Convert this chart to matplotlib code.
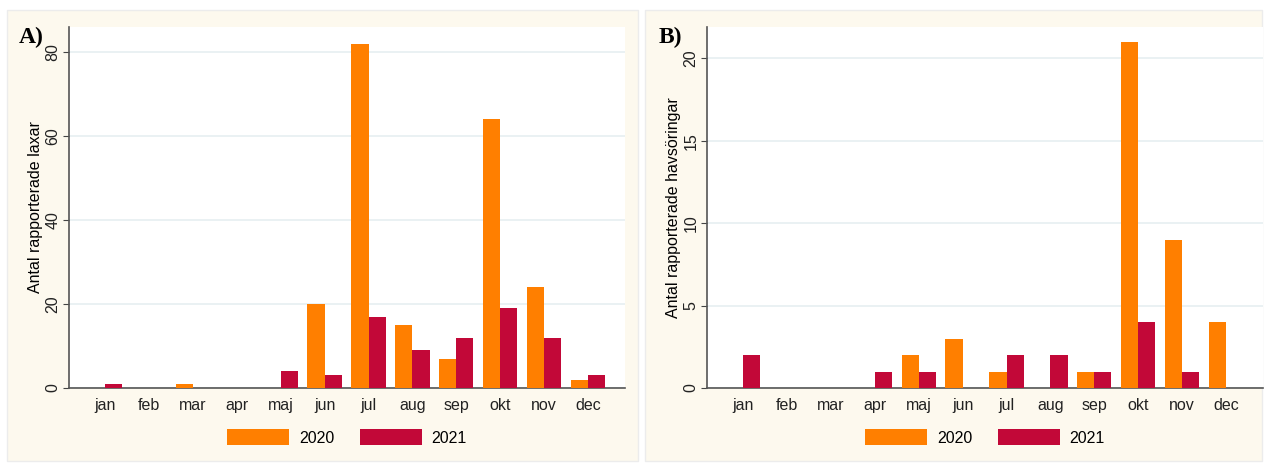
import numpy as np
import matplotlib
matplotlib.use("Agg")
import matplotlib.pyplot as plt
from matplotlib.patches import Rectangle

months = ["jan", "feb", "mar", "apr", "maj", "jun", "jul", "aug", "sep", "okt", "nov", "dec"]
years = ["2020", "2021"]

# Panel A: laxar
lax_2020 = [0, 0, 1, 0, 0, 20, 82, 15, 7, 64, 24, 2]
lax_2021 = [1, 0, 0, 0, 4, 3, 17, 9, 12, 19, 12, 3]

# Panel B: havsöringar
hav_2020 = [0, 0, 0, 0, 2, 3, 1, 0, 1, 21, 9, 4]
hav_2021 = [2, 0, 0, 1, 1, 0, 2, 2, 1, 4, 1, 0]

C2020 = "#ff7f00"
C2021 = "#c20838"
CREAM = "#fdf9ee"

plt.rcParams["font.family"] = ["Liberation Sans", "DejaVu Sans"]

W, H = 1266, 463
fig = plt.figure(figsize=(W / 100, H / 100), dpi=100)
fig.patch.set_facecolor("white")


def px_axes(x0, y0, x1, y1):
    """Axes from pixel box (top-left origin)."""
    return fig.add_axes([x0 / W, 1 - y1 / H, (x1 - x0) / W, (y1 - y0) / H])


def panel_bg(x0, x1):
    fig.patches.append(Rectangle((x0 / W, 1 - 461 / H), (x1 - x0) / W, (461 - 10) / H,
                                 transform=fig.transFigure, facecolor=CREAM,
                                 edgecolor="#ececec", lw=1, zorder=-10))


def draw(ax, v20, v21, ylabel, yticks, ymax, tag, tag_x):
    x = np.arange(len(months))
    w = 0.39
    ax.bar(x - w / 2, v20, w, color=C2020, label=years[0], zorder=3)
    ax.bar(x + w / 2, v21, w, color=C2021, label=years[1], zorder=3)
    ax.set_xlim(-0.82, 11.84)
    ax.set_ylim(0, ymax)
    ax.set_xticks(x)
    ax.set_xticklabels(months, fontsize=11.5)
    ax.tick_params(axis="x", length=0, pad=7, colors="#222222")
    ax.set_yticks(yticks)
    ax.set_yticklabels([str(t) for t in yticks], rotation=90, va="center", fontsize=11.5)
    ax.tick_params(axis="y", length=4, width=0.8, color="#444444", labelcolor="#222222", pad=2)
    ax.set_ylabel(ylabel, fontsize=11.5, labelpad=2)
    ax.grid(axis="y", color="#e6eff1", lw=1.2, zorder=0)
    ax.set_facecolor("white")
    for s in ["top", "right"]:
        ax.spines[s].set_visible(False)
    for s in ["left", "bottom"]:
        ax.spines[s].set_color("#555555")
        ax.spines[s].set_linewidth(1.2)
    ax.legend(loc="upper center", bbox_to_anchor=(0.5, -0.075), ncol=2, frameon=False,
              fontsize=11.5, handlelength=3.9, handleheight=1.1, handletextpad=0.6,
              columnspacing=1.6)
    fig.text(tag_x / W, 1 - 37 / H, tag, fontsize=17, fontweight="bold",
             family=["Liberation Serif", "DejaVu Serif"], va="center", ha="left")


panel_bg(7, 638)
panel_bg(645, 1262)

axA = px_axes(69, 27, 625, 388)
draw(axA, lax_2020, lax_2021, "Antal rapporterade laxar", [0, 20, 40, 60, 80], 86, "A)", 19)

axB = px_axes(707, 27, 1263, 388)
draw(axB, hav_2020, hav_2021, "Antal rapporterade havsöringar", [0, 5, 10, 15, 20], 21.9, "B)", 659)

fig.savefig("out.png", dpi=100, facecolor=fig.get_facecolor())
